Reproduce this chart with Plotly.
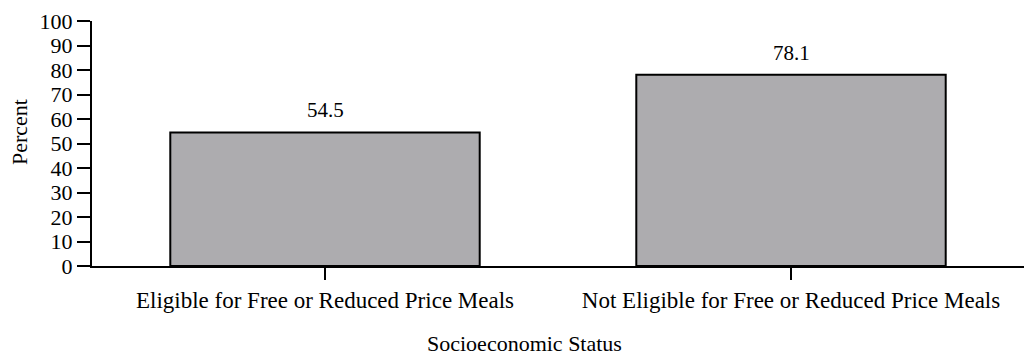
import plotly.graph_objects as go

categories = ["Eligible for Free or Reduced Price Meals",
              "Not Eligible for Free or Reduced Price Meals"]
percent = [54.5, 78.1]
y_ticks = list(range(0, 101, 10))

serif = "Liberation Serif, Times New Roman, serif"

fig = go.Figure(go.Bar(
    x=categories, y=percent,
    width=0.664,
    marker=dict(color="#adacaf", line=dict(color="black", width=2)),
    hoverinfo="x+y",
))

for c, v in zip(categories, percent):
    fig.add_annotation(x=c, y=v, text=f"{v:.1f}", showarrow=False,
                       yanchor="bottom", yshift=8,
                       font=dict(family=serif, size=21, color="black"))

fig.add_annotation(text="Percent", xref="paper", yref="paper", x=-0.078, y=0.548,
                   textangle=-90, showarrow=False, xanchor="center", yanchor="middle",
                   font=dict(family=serif, size=22, color="black"))
fig.add_annotation(text="Socioeconomic Status", xref="paper", yref="paper", x=0.464, y=-0.315,
                   showarrow=False, xanchor="center", yanchor="middle",
                   font=dict(family=serif, size=22, color="black"))

fig.update_layout(
    width=1024, height=356,
    margin=dict(l=92, r=0, t=21, b=90),
    plot_bgcolor="white", paper_bgcolor="white",
    font=dict(family=serif, size=22, color="black"),
    showlegend=False,
)
fig.update_xaxes(range=[-0.5, 1.5], showline=True, linecolor="black", linewidth=2,
                 ticks="outside", ticklen=12, tickwidth=2, tickcolor="black",
                 tickfont=dict(size=23),
                 showgrid=False, zeroline=False)
fig.update_yaxes(range=[0, 100], tickvals=y_ticks, showline=True, linecolor="black", linewidth=2,
                 ticks="outside", ticklen=13, tickwidth=2, tickcolor="black",
                 showgrid=False, zeroline=False)

fig.write_html("out.html", config={"displayModeBar": False},
               post_script="document.body.style.margin='0';")
